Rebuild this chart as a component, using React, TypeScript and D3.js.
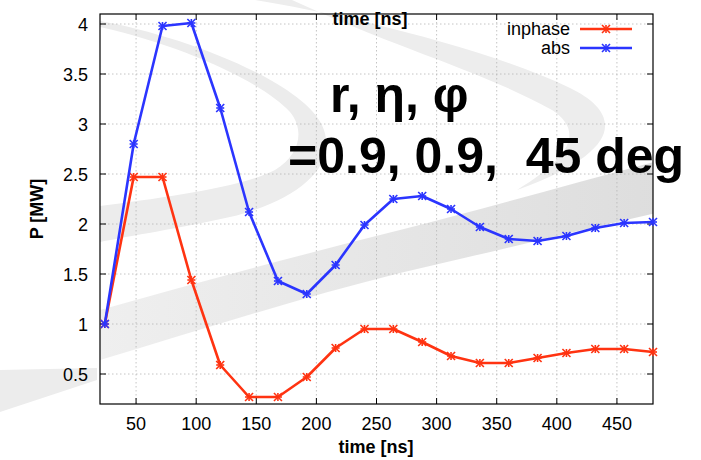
import React from "react";
import * as d3 from "d3";

const times = [24, 48, 72, 96, 120, 144, 168, 192, 216, 240, 264, 288, 312, 336, 360, 384, 408, 432, 456, 480];
const inphase = [1.0, 2.47, 2.47, 1.44, 0.59, 0.27, 0.27, 0.47, 0.76, 0.95, 0.95, 0.82, 0.68, 0.61, 0.61, 0.66, 0.71, 0.75, 0.75, 0.72];
const absVals = [1.0, 2.80, 3.98, 4.01, 3.16, 2.12, 1.43, 1.30, 1.59, 1.99, 2.25, 2.28, 2.15, 1.97, 1.85, 1.83, 1.88, 1.96, 2.01, 2.02];
const xTicks = [50, 100, 150, 200, 250, 300, 350, 400, 450];
const yTicks = [0.5, 1, 1.5, 2, 2.5, 3, 3.5, 4];
const yTickLabels = ["0.5", "1", "1.5", "2", "2.5", "3", "3.5", "4"];
const seriesNames = ["inphase", "abs"];
const seriesColors = ["#ff3311", "#2b35ff"];
const xDomain = [20, 480];
const yDomain = [0.2, 4.1];

const W = 701, H = 460;
const L = 100, R = 653, T = 14, B = 404;
const FONT = "'Liberation Sans', Arial, Helvetica, sans-serif";

function Marker({ x, y, color }: { x: number; y: number; color: string }) {
  const s = 4;
  return (
    <g stroke={color} strokeWidth={1.6}>
      <line x1={x - s} y1={y - s} x2={x + s} y2={y + s} />
      <line x1={x - s} y1={y + s} x2={x + s} y2={y - s} />
      <line x1={x - s} y1={y} x2={x + s} y2={y} />
      <line x1={x} y1={y - s} x2={x} y2={y + s} />
    </g>
  );
}

export default function App() {
  const x = d3.scaleLinear().domain(xDomain).range([L, R]);
  const y = d3.scaleLinear().domain(yDomain).range([B, T]);
  const series = [inphase, absVals];
  const line = d3
    .line<number>()
    .x((_, i) => x(times[i]))
    .y((d) => y(d));

  return (
    <svg
      width={W}
      height={H}
      viewBox={`0 0 ${W} ${H}`}
      style={{ position: "fixed", left: 0, top: 0, background: "#fff" }}
      fontFamily={FONT}
    >
      <defs>
        <linearGradient id="bandGrad" x1="0" y1="0" x2="1" y2="0">
          <stop offset="0" stopColor="#efefef" />
          <stop offset="1" stopColor="#dcdcdc" />
        </linearGradient>
        <clipPath id="plotClip">
          <rect x={L} y={T} width={R - L} height={B - T} />
        </clipPath>
      </defs>
      <rect x={0} y={0} width={W} height={H} fill="#fff" />
      {/* watermark decoration */}
      <path d="M0,370 L97,368 L97,380 L0,412 Z" fill="#ececec" />
      <path
        d="M255,0 C330,12 480,45 570,88 C620,112 628,150 517,190 C575,155 582,130 552,110 C480,70 400,50 292,0 Z"
        fill="#ededed"
      />
      <g clipPath="url(#plotClip)">
        <path
          d="M100,21 C180,35 300,80 322,125 C340,165 300,200 230,217 C180,228 130,236 100,242 L100,206 C160,198 240,188 275,170 C300,155 305,130 290,112 C260,80 180,45 100,27 Z"
          fill="#ececec"
        />
        <path
          d="M100,310 C200,282 300,255 400,230 C500,205 600,175 701,150 L701,203 C600,225 500,250 400,273 C300,298 200,330 100,360 Z"
          fill="url(#bandGrad)"
        />
      </g>
      <path d="M653,150 C670,146 690,142 701,140 L701,204 C690,206 670,208 653,211 Z" fill="#dcdcdc" opacity={0} />

      {/* grid */}
      <g stroke="#b5b5b5" strokeWidth={0.8} strokeDasharray="1.5,2.5">
        {xTicks.map((t) => (
          <line key={"gx" + t} x1={x(t)} x2={x(t)} y1={T} y2={B} />
        ))}
        {yTicks.map((t) => (
          <line key={"gy" + t} x1={L} x2={R} y1={y(t)} y2={y(t)} />
        ))}
      </g>

      {/* ticks */}
      <g stroke="#000" strokeWidth={1}>
        {xTicks.map((t) => (
          <g key={"tx" + t}>
            <line x1={x(t)} x2={x(t)} y1={B} y2={B - 6} />
            <line x1={x(t)} x2={x(t)} y1={T} y2={T + 6} />
          </g>
        ))}
        {yTicks.map((t) => (
          <g key={"ty" + t}>
            <line x1={L} x2={L + 6} y1={y(t)} y2={y(t)} />
            <line x1={R} x2={R - 6} y1={y(t)} y2={y(t)} />
          </g>
        ))}
      </g>

      {/* border */}
      <rect x={L} y={T} width={R - L} height={B - T} fill="none" stroke="#000" strokeWidth={1.2} />

      {/* tick labels */}
      <g fontSize={18} fill="#000">
        {xTicks.map((t) => (
          <text key={"lx" + t} x={x(t)} y={430} textAnchor="middle">
            {t}
          </text>
        ))}
        {yTicks.map((t, i) => (
          <text key={"ly" + t} x={88} y={y(t) + 6.5} textAnchor="end">
            {yTickLabels[i]}
          </text>
        ))}
      </g>

      {/* axis labels */}
      <text x={376} y={453} textAnchor="middle" fontSize={18} fontWeight="bold">
        time [ns]
      </text>
      <text x={370} y={25} textAnchor="middle" fontSize={18} fontWeight="bold">
        time [ns]
      </text>
      <text
        transform={`translate(43,${(T + B) / 2}) rotate(-90)`}
        textAnchor="middle"
        fontSize={18}
        fontWeight="bold"
      >
        P [MW]
      </text>

      {/* big annotation */}
      <text x={330} y={112} fontSize={50} fontWeight="bold" fill="#000" style={{ whiteSpace: "pre" }}>
        r, η, φ
      </text>
      <text x={288} y={173} fontSize={50} fontWeight="bold" fill="#000" style={{ whiteSpace: "pre" }}>
        {"=0.9, 0.9,  45 deg"}
      </text>

      {/* series */}
      {series.map((vals, si) => (
        <g key={"s" + si}>
          <path d={line(vals) || ""} fill="none" stroke={seriesColors[si]} strokeWidth={2.6} strokeLinejoin="round" />
          {vals.map((v, i) => (
            <Marker key={i} x={x(times[i])} y={y(v)} color={seriesColors[si]} />
          ))}
        </g>
      ))}

      {/* legend */}
      {seriesNames.map((n, i) => {
        const ly = 29 + i * 19;
        return (
          <g key={"lg" + n}>
            <text x={570} y={ly + 6} textAnchor="end" fontSize={18} fill="#000">
              {n}
            </text>
            <line x1={580} x2={632} y1={ly} y2={ly} stroke={seriesColors[i]} strokeWidth={2.6} />
            <Marker x={606} y={ly} color={seriesColors[i]} />
          </g>
        );
      })}
    </svg>
  );
}
